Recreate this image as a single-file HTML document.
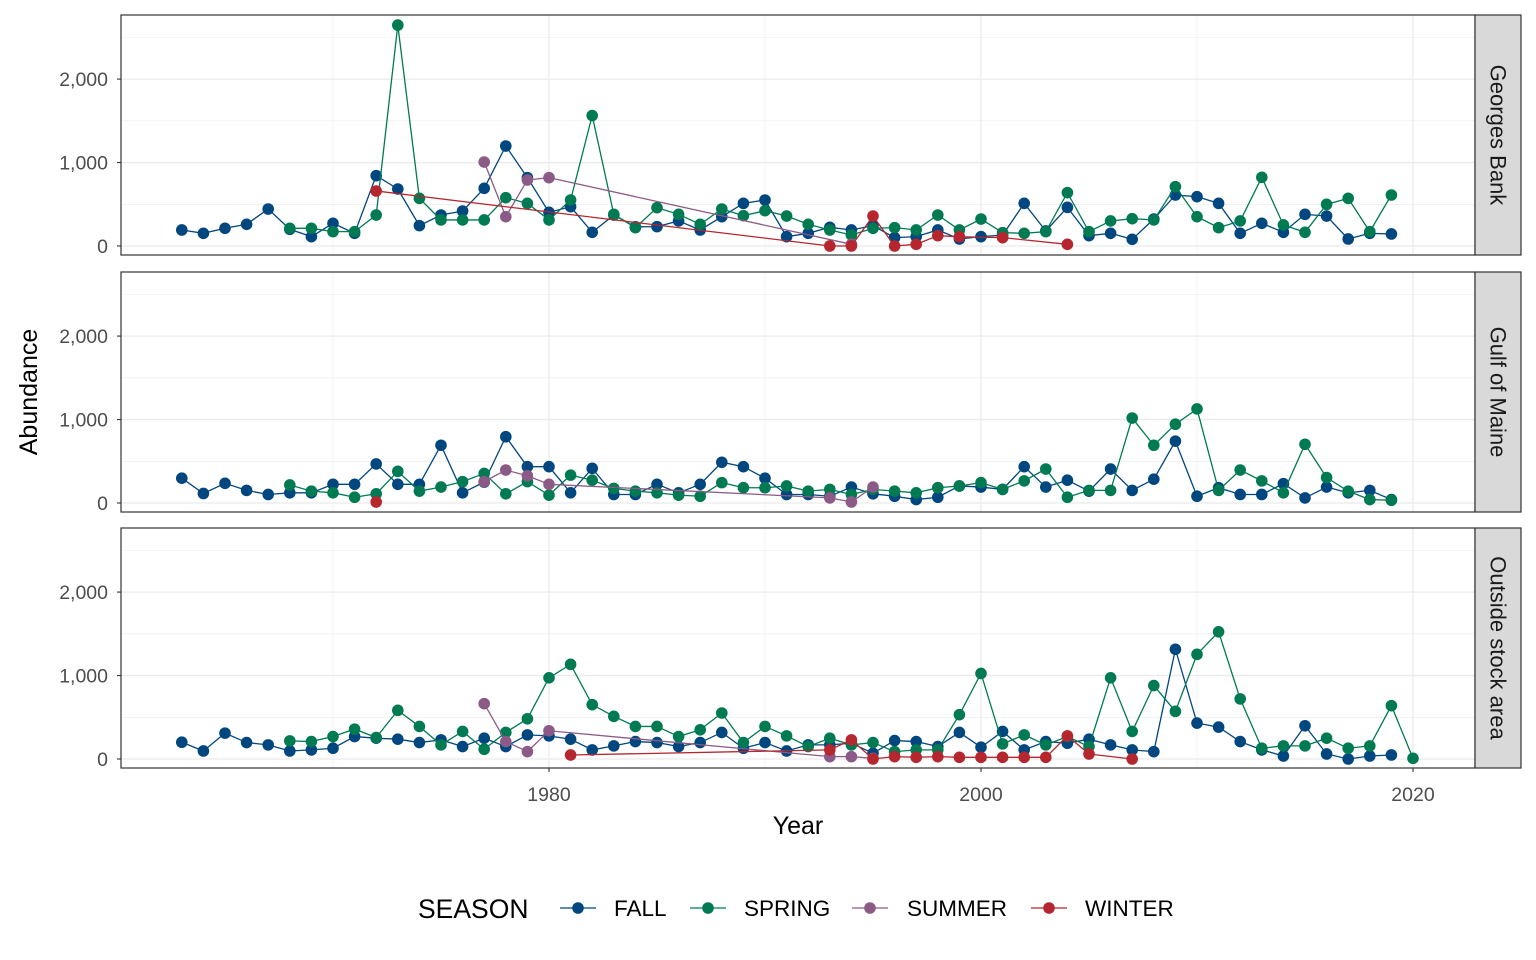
<!DOCTYPE html>
<html><head><meta charset="utf-8"><style>
body{margin:0;background:#fff;}
svg{display:block;font-family:"Liberation Sans",Arial,sans-serif;}
</style></head><body>
<svg id="chart" width="1536" height="960" viewBox="0 0 1536 960" xmlns="http://www.w3.org/2000/svg"></svg>
<script>
const panelNames = ["Georges Bank","Gulf of Maine","Outside stock area"];
const seasons = ["FALL","SPRING","SUMMER","WINTER"];
const yTicks = [0,1000,2000];
const yTickLabels = ["0","1,000","2,000"];
const xTicks = [1980,2000,2020];
const xTickLabels = ["1980","2000","2020"];

const gbFall = [[1963,192],[1964,152],[1965,212],[1966,260],[1967,443],[1968,200],[1969,112],[1970,272],[1971,152],[1972,843],[1973,683],[1974,244],[1975,371],[1976,419],[1977,691],[1978,1198],[1979,819],[1980,403],[1981,471],[1982,164],[1983,371],[1984,230],[1985,232],[1986,300],[1987,192],[1988,351],[1989,511],[1990,551],[1991,112],[1992,152],[1993,224],[1994,192],[1995,244],[1996,100],[1997,112],[1998,192],[1999,84],[2000,112],[2001,130],[2002,511],[2003,180],[2004,463],[2005,124],[2006,152],[2007,80],[2008,323],[2009,611],[2010,591],[2011,511],[2012,152],[2013,272],[2014,164],[2015,379],[2016,359],[2017,84],[2018,152],[2019,144]];
const gbSpring = [[1968,212],[1969,212],[1970,172],[1971,172],[1972,371],[1973,2647],[1974,571],[1975,312],[1976,312],[1977,312],[1978,579],[1979,511],[1980,312],[1981,551],[1982,1563],[1983,379],[1984,220],[1985,459],[1986,379],[1987,260],[1988,443],[1989,363],[1990,423],[1991,359],[1992,260],[1993,192],[1994,132],[1995,212],[1996,220],[1997,192],[1998,371],[1999,192],[2000,323],[2001,160],[2002,152],[2003,172],[2004,639],[2005,172],[2006,300],[2007,327],[2008,312],[2009,711],[2010,351],[2011,220],[2012,300],[2013,823],[2014,252],[2015,164],[2016,499],[2017,571],[2018,172],[2019,611]];
const gbSummer = [[1977,1006],[1978,351],[1979,791],[1980,819],[1994,20]];
const gbWinter = [[1972,659],[1993,0],[1994,0],[1995,359],[1996,0],[1997,20],[1998,124],[1999,110],[2001,100],[2004,20]];

const gmFall = [[1963,297],[1964,114],[1965,236],[1966,151],[1967,102],[1968,122],[1969,122],[1970,224],[1971,224],[1972,468],[1973,224],[1974,224],[1975,692],[1976,122],[1977,250],[1978,794],[1979,435],[1980,435],[1981,122],[1982,415],[1983,102],[1984,102],[1985,224],[1986,122],[1987,224],[1988,488],[1989,435],[1990,297],[1991,102],[1992,102],[1993,81],[1994,191],[1995,110],[1996,81],[1997,41],[1998,69],[1999,204],[2000,191],[2001,163],[2002,435],[2003,191],[2004,273],[2005,142],[2006,407],[2007,151],[2008,285],[2009,741],[2010,81],[2011,183],[2012,102],[2013,102],[2014,232],[2015,61],[2016,191],[2017,122],[2018,151],[2019,41]];
const gmSpring = [[1968,216],[1969,142],[1970,122],[1971,69],[1972,110],[1973,379],[1974,142],[1975,191],[1976,256],[1977,354],[1978,110],[1979,256],[1980,94],[1981,334],[1982,273],[1983,175],[1984,142],[1985,122],[1986,94],[1987,81],[1988,244],[1989,183],[1990,183],[1991,204],[1992,142],[1993,163],[1994,102],[1995,163],[1996,142],[1997,122],[1998,183],[1999,204],[2000,244],[2001,163],[2002,265],[2003,407],[2004,69],[2005,151],[2006,151],[2007,1018],[2008,692],[2009,944],[2010,1127],[2011,151],[2012,395],[2013,265],[2014,122],[2015,704],[2016,305],[2017,142],[2018,41],[2019,33]];
const gmSummer = [[1977,256],[1978,395],[1979,326],[1980,224],[1993,61],[1994,12],[1995,191]];
const gmWinter = [[1972,12]];

const osFall = [[1963,201],[1964,96],[1965,310],[1966,197],[1967,169],[1968,96],[1969,109],[1970,129],[1971,269],[1972,249],[1973,237],[1974,197],[1975,229],[1976,149],[1977,249],[1978,149],[1979,289],[1980,277],[1981,237],[1982,109],[1983,157],[1984,209],[1985,197],[1986,149],[1987,197],[1988,318],[1989,129],[1990,197],[1991,96],[1992,169],[1993,169],[1994,189],[1995,68],[1996,221],[1997,209],[1998,149],[1999,318],[2000,141],[2001,330],[2002,109],[2003,209],[2004,189],[2005,237],[2006,169],[2007,109],[2008,88],[2009,1315],[2010,430],[2011,382],[2012,209],[2013,109],[2014,36],[2015,398],[2016,60],[2017,0],[2018,36],[2019,48]];
const osSpring = [[1968,217],[1969,209],[1970,269],[1971,358],[1972,257],[1973,583],[1974,390],[1975,169],[1976,330],[1977,117],[1978,318],[1979,482],[1980,973],[1981,1134],[1982,651],[1983,511],[1984,390],[1985,390],[1986,269],[1987,350],[1988,551],[1989,197],[1990,390],[1991,277],[1992,149],[1993,249],[1994,169],[1995,197],[1996,88],[1997,109],[1998,109],[1999,531],[2000,1025],[2001,181],[2002,289],[2003,169],[2004,269],[2005,149],[2006,973],[2007,330],[2008,880],[2009,571],[2010,1254],[2011,1524],[2012,720],[2013,129],[2014,157],[2015,157],[2016,249],[2017,129],[2018,157],[2019,639],[2020,8]];
const osSummer = [[1977,663],[1978,209],[1979,88],[1980,338],[1993,28],[1994,28],[1995,8]];
const osWinter = [[1981,48],[1993,109],[1994,229],[1995,0],[1996,28],[1997,20],[1998,28],[1999,20],[2000,20],[2001,20],[2002,20],[2003,20],[2004,277],[2005,60],[2007,0]];

const panelSeries = [[gbFall,gbSpring,gbSummer,gbWinter],[gmFall,gmSpring,gmSummer,gmWinter],[osFall,osSpring,osSummer,osWinter]];
const colors = ["#00467f","#007a52","#8b5a86","#b5262e"];

const NS="http://www.w3.org/2000/svg";
const svg=document.getElementById('chart');
function mk(tag,attrs,parent){const e=document.createElementNS(NS,tag);for(const k in attrs)e.setAttribute(k,attrs[k]);(parent||svg).appendChild(e);return e;}
const PL=121, PR=1475, panelTops=[15,272,528], PH=240;
const yMin=-108, yMax=2768;
function xs(yr){return 549+(yr-1980)*21.6;}
function ys(v,p){return panelTops[p]+PH-(v-yMin)/(yMax-yMin)*PH;}

panelSeries.forEach((series,p)=>{
  const g=mk('g',{});
  
  
  const top=panelTops[p];
  [500,1500,2500].forEach(v=>{mk('line',{x1:PL,x2:PR,y1:ys(v,p),y2:ys(v,p),stroke:'#ebebeb','stroke-width':0.6},g);});
  [1970,1990,2010].forEach(v=>{mk('line',{x1:xs(v),x2:xs(v),y1:top,y2:top+PH,stroke:'#ebebeb','stroke-width':0.6},g);});
  yTicks.forEach(v=>{mk('line',{x1:PL,x2:PR,y1:ys(v,p),y2:ys(v,p),stroke:'#ebebeb','stroke-width':1.3},g);});
  xTicks.forEach(v=>{mk('line',{x1:xs(v),x2:xs(v),y1:top,y2:top+PH,stroke:'#ebebeb','stroke-width':1.3},g);});
  series.forEach((s,i)=>{
    const sg=mk('g',{},g);
    
    
    if(s.length>1){
      const pl=mk('polyline',{points:s.map(d=>xs(d[0])+','+ys(d[1],p)).join(' '),fill:'none',stroke:colors[i],'stroke-width':1.3},sg);
      
      
    }
    s.forEach(d=>{
      const c=mk('circle',{cx:xs(d[0]),cy:ys(d[1],p),r:5.8,fill:colors[i]},sg);
      
      
    });
  });
  mk('rect',{x:PL,y:top,width:PR-PL,height:PH,fill:'none',stroke:'#333','stroke-width':1.2},g);
  yTicks.forEach((v,k)=>{
    mk('line',{x1:PL-4,x2:PL,y1:ys(v,p),y2:ys(v,p),stroke:'#333','stroke-width':1.1},g);
    const t=mk('text',{x:PL-13,y:ys(v,p)+7,'text-anchor':'end','font-size':19.5,fill:'#4d4d4d'},g);
    t.textContent=yTickLabels[k];
    
    
  });
  const st=mk('rect',{x:PR,y:top,width:46,height:PH,fill:'#d9d9d9',stroke:'#333','stroke-width':1.2},g);
  
  
  const cy=top+PH/2, cx=PR+23;
  const stt=mk('text',{x:cx,y:cy,'text-anchor':'middle','dominant-baseline':'central','font-size':22,fill:'#1a1a1a',transform:`rotate(90 ${cx} ${cy})`},g);
  stt.textContent=panelNames[p];
  
  
});
xTicks.forEach((v,k)=>{
  mk('line',{x1:xs(v),x2:xs(v),y1:768,y2:772,stroke:'#333','stroke-width':1.1});
  const t=mk('text',{x:xs(v),y:801,'text-anchor':'middle','font-size':19.5,fill:'#4d4d4d'});
  t.textContent=xTickLabels[k];
  
  
});
const xt=mk('text',{x:798,y:834,'text-anchor':'middle','font-size':25,fill:'#000'});
xt.textContent='Year';


const yt=mk('text',{x:37,y:392,'text-anchor':'middle','font-size':25,fill:'#000',transform:'rotate(-90 37 392)'});
yt.textContent='Abundance';


const lt=mk('text',{x:418,y:918,'font-size':26.5,fill:'#000'});
lt.textContent='SEASON';


const legX=[560,690,852,1031], legTX=[614,744,907,1085];
seasons.forEach((s,i)=>{
  const lg=mk('g',{});
  
  
  mk('line',{x1:legX[i],x2:legX[i]+36,y1:908,y2:908,stroke:colors[i],'stroke-width':1.3},lg);
  mk('circle',{cx:legX[i]+18,cy:908,r:5.8,fill:colors[i]},lg);
  const t=mk('text',{x:legTX[i],y:916,'font-size':22.5,fill:'#000'},lg);
  t.textContent=s;
});
</script>
</body></html>
